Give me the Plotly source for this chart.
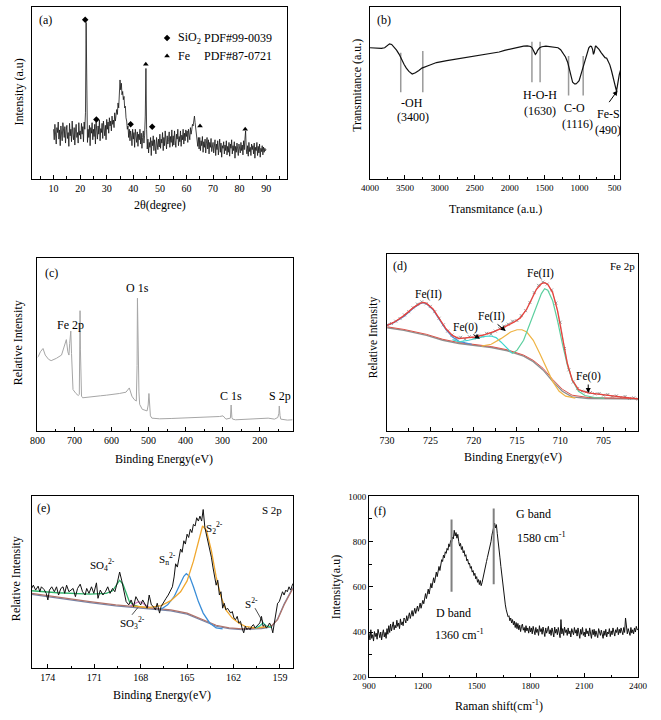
import plotly.graph_objects as go

FONT = "Liberation Serif, Times New Roman, serif"
W, H = 661, 720

# ---------------- (a) XRD (0.25 degree steps from 10 to 90) ----------------
xrd_2theta = [round(10 + 0.25 * i, 2) for i in range(321)]
xrd_intensity = [
    150, 118, 165, 128, 105, 155, 140, 172, 120, 148, 100, 160, 132, 115, 170, 138, 125, 158, 108, 145,
    162, 122, 140, 98, 168, 130, 150, 112, 175, 135, 118, 155, 102, 148, 165, 125, 140, 108, 170, 132,
    145, 120, 168, 135, 158, 112, 172, 150, 200, 475, 180, 110, 150, 125, 162, 100, 155, 138, 170, 118,
    150, 128, 165, 105, 172, 140, 120, 160, 135, 178, 115, 152, 140, 168, 122, 175, 145, 130, 162, 118,
    180, 150, 172, 138, 185, 160, 175, 145, 190, 165, 178, 155, 200, 175, 192, 210, 195, 230, 215, 262,
    300, 270, 290, 255, 265, 240, 250, 215, 220, 185, 175, 150, 160, 125, 150, 115, 145, 130, 100, 150,
    120, 140, 95, 150, 128, 110, 142, 98, 135, 118, 150, 105, 138, 92, 125, 145, 108, 132, 190, 335,
    150, 90, 120, 78, 110, 95, 125, 70, 115, 100, 130, 85, 118, 95, 75, 125, 102, 88, 120, 96,
    135, 92, 120, 108, 140, 85, 125, 100, 145, 110, 90, 130, 105, 118, 142, 95, 128, 110, 148, 98,
    130, 102, 145, 115, 95, 135, 120, 150, 100, 128, 112, 145, 98, 132, 118, 150, 105, 138, 115, 148,
    128, 145, 110, 150, 132, 118, 155, 135, 148, 165, 160, 185, 190, 170, 150, 135, 120, 98, 125, 90,
    125, 85, 115, 100, 128, 80, 112, 95, 120, 78, 108, 125, 90, 118, 75, 110, 95, 122, 82, 105,
    110, 78, 100, 118, 70, 105, 88, 115, 72, 98, 120, 80, 108, 65, 100, 92, 112, 75, 102, 85,
    115, 72, 98, 80, 110, 68, 105, 92, 118, 75, 100, 85, 112, 62, 98, 80, 108, 90, 70, 105,
    95, 78, 110, 85, 102, 72, 115, 88, 120, 145, 90, 75, 100, 68, 110, 82, 95, 70, 105, 88,
    100, 75, 108, 62, 95, 85, 110, 70, 98, 78, 105, 65, 92, 82, 100, 72, 96, 80, 92, 85,
    88]
sio2_2theta = [21.9, 26.1, 39.0, 47.1]
sio2_marker_y = [483, 180, 165, 158]
fe_2theta = [44.7, 65.1, 82.1]
fe_marker_y = [348, 160, 150]

# ---------------- (b) FTIR ----------------
ftir_wn = [4000, 3900, 3837, 3790, 3754, 3721, 3690, 3652, 3620, 3582, 3550, 3513, 3480, 3443, 3396, 3350, 3300,
           3257, 3150, 3048, 2900, 2723, 2600, 2445, 2259, 2150, 2073, 1980, 1887, 1800, 1748, 1700, 1679, 1655,
           1632, 1615, 1600, 1570, 1539, 1480, 1424, 1360, 1307, 1270, 1237, 1200, 1168, 1130, 1098, 1070, 1051,
           1030, 1005, 970, 935, 900, 866, 845, 828, 812, 800, 790, 781, 772, 765, 750, 735, 720, 690, 660, 634,
           610, 588, 565, 541, 515, 494, 480, 470, 460, 448, 430, 412]
ftir_trans = [400, 399, 398, 400, 408, 412, 410, 402, 393, 380, 365, 350, 338, 328, 320, 324, 331,
              338, 347, 355, 361, 367, 372, 378, 383, 387, 392, 397, 402, 405, 406, 404, 400, 388,
              380, 384, 392, 400, 403, 405, 404, 403, 400, 394, 385, 372, 355, 325, 295, 290, 290,
              294, 300, 325, 350, 378, 400, 405, 404, 395, 380, 385, 398, 404, 405, 402, 398, 395, 385, 375, 370,
              368, 360, 348, 330, 305, 285, 272, 268, 280, 300, 318, 332]
ftir_mark_wn = [3560, 3244, 1681, 1564, 1156, 947]
ftir_mark_top = [385, 390, 418, 418, 375, 375]
ftir_mark_bottom = [265, 265, 295, 295, 255, 255]

# ---------------- (c) XPS survey ----------------
survey_be = [800, 798, 792, 785, 779, 770, 763, 749, 735, 727, 722, 718, 715, 713, 710, 708, 704, 696, 690, 687,
             686, 685, 684, 683, 681, 678, 660, 648, 630, 613, 595, 579, 561, 552, 545, 539, 533, 531, 530, 528.5,
             526, 524, 517, 504, 501, 499, 497, 495, 491, 470, 439, 400, 352, 330, 308, 299, 291, 279, 277, 275,
             273, 265, 240, 221, 200, 177, 160, 151, 148, 147, 145, 143, 125, 111]
survey_int = [225, 227, 242, 252, 232, 219, 215, 222, 232, 257, 279, 242, 232, 267, 305, 237, 127, 115, 109, 112,
              200, 367, 250, 140, 107, 102, 105, 107, 108, 110, 112, 115, 119, 132, 107, 97, 92, 200, 405, 260,
              120, 82, 67, 62, 80, 115, 75, 47, 40, 38, 39, 41, 42, 43, 45, 47, 37, 40, 80, 42,
              37, 35, 36, 37, 38, 40, 37, 42, 55, 77, 48, 37, 34, 35]

# ---------------- (d) Fe 2p ----------------
fe_raw_be = [730, 729.5, 729, 728.5, 728, 727.5, 727, 726.5, 726, 725.5, 725, 724.5, 724, 723.5, 723, 722.5, 722,
             721.5, 721, 720.5, 720, 719.5, 719, 718.5, 718, 717.5, 717, 716.5, 716, 715.5, 715, 714.5, 714, 713.5,
             713, 712.5, 712, 711.5, 711, 710.5, 710, 709.5, 709, 708.5, 708, 707.5, 707, 706.5, 706, 705.5, 705,
             704.5, 704, 703.5, 703, 702.5, 702, 701.5, 701]
fe_raw_int = [322, 326, 333, 341, 352, 362, 374, 385, 392, 386, 378, 362, 342, 322, 303, 291, 282,
              284, 279, 286, 282, 290, 288, 296, 294, 303, 311, 318, 324, 333, 335, 350, 365, 390,
              420, 442, 452, 446, 428, 388, 330, 250, 185, 148, 128, 120, 118, 116, 112, 113, 108,
              110, 104, 106, 101, 104, 98, 100, 96]
fe_env_be = [730, 729.18, 728.06, 726.94, 726.19, 725.81, 725.44, 724.69, 723.95, 723.2, 722.45, 721.7, 720.96,
             719.84, 718.71, 717.59, 716.47, 715.35, 714.6, 713.86, 713.3, 712.74, 712.17, 711.8, 711.43, 710.87,
             710.31, 709.75, 709.18, 708.62, 707.88, 706.76, 704.89, 703.02, 701.04]
fe_env_int = [320, 330, 350, 375, 387, 390, 387, 370, 340, 310, 290, 280, 282,
              285, 292, 302, 315, 330, 343, 370, 400, 430, 447, 450, 445, 420,
              365, 285, 205, 155, 125, 115, 110, 103, 97]
fe_bg_be = [730, 728.06, 725.44, 723.57, 721.7, 719.84, 717.97, 716.1, 714.23, 713.11, 711.99, 710.87, 709.75,
            708.62, 706.76, 703.02, 701.04]
fe_bg_int = [313, 305, 290, 275, 265, 259, 253, 243, 227, 210, 185, 150, 120, 103, 98, 97, 96]
fe_bg2_int = [316, 308, 293, 278, 268, 262, 256, 246, 230, 214, 190, 156, 126, 108, 101, 99, 98]
fe_p726_be = [730, 729.18, 728.06, 726.94, 726.19, 725.81, 725.44, 724.69, 723.95, 723.2, 722.45, 721.7, 720.96, 720.21]
fe_p726_int = [320, 329, 347, 373, 386, 389, 386, 368, 338, 307, 285, 272, 267, 263]
fe_p719_be = [722.45, 721.7, 720.58, 719.46, 718.71, 717.97, 717.41, 716.85, 716.1, 715.54]
fe_p719_int = [277, 270, 275, 282, 287, 288, 283, 270, 250, 235]
fe_p715_be = [719.09, 717.97, 716.85, 715.73, 714.98, 714.42, 713.86, 713.11, 712.36, 711.61, 710.87, 710.12,
              709.37, 708.25]
fe_p715_int = [257, 263, 280, 300, 307, 307, 300, 275, 235, 190, 150, 120, 105, 99]
fe_p712_be = [715.54, 714.98, 714.23, 713.48, 712.74, 712.17, 711.8, 711.43, 710.87, 710.31, 709.75, 709.18,
              708.62, 707.88, 707.13, 706.01, 704.89]
fe_p712_int = [235, 245, 275, 325, 380, 417, 432, 427, 395, 335, 265, 200, 155, 120, 107, 101, 99]

# ---------------- (e) S 2p ----------------
s_raw_be = [175.05, 174.94, 174.79, 174.63, 174.52, 174.42, 174.25, 174.10, 174.00, 173.90, 173.75, 173.58, 173.44,
            173.31, 173.16, 173.02, 172.91, 172.79, 172.64, 172.49, 172.37, 172.22, 172.08, 171.91, 171.76, 171.59,
            171.49, 171.34, 171.18, 171.03, 170.86, 170.76, 170.61, 170.44, 170.28, 170.13, 169.98, 169.82, 169.67,
            169.50, 169.36, 169.23, 169.08, 168.94, 168.77, 168.62, 168.46, 168.31, 168.14, 168.00, 167.87, 167.72,
            167.58, 167.45, 167.31, 167.18, 167.05, 166.93, 166.78, 166.68, 166.51, 166.36, 166.22, 166.05, 165.95,
            165.84, 165.74, 165.63, 165.53, 165.42, 165.32, 165.21, 165.11, 165.00, 164.90, 164.79, 164.69, 164.59,
            164.48, 164.38, 164.27, 164.17, 164.06, 163.96, 163.85, 163.75, 163.64, 163.54, 163.43, 163.33, 163.23,
            163.12, 163.02, 162.91, 162.81, 162.70, 162.60, 162.49, 162.39, 162.28, 162.18, 162.08, 161.97, 161.87,
            161.76, 161.66, 161.55, 161.45, 161.34, 161.24, 161.13, 161.03, 160.92, 160.82, 160.71, 160.61, 160.51,
            160.40, 160.30, 160.19, 160.09, 159.98, 159.88, 159.77, 159.67, 159.56, 159.46, 159.36, 159.25, 159.15,
            159.04, 158.94, 158.83, 158.73, 158.62, 158.52, 158.41, 158.31, 158.16]
s_raw_int = [243, 253, 238, 250, 233, 248, 240, 228, 208, 238, 248, 233, 248,
             223, 243, 248, 228, 253, 233, 238, 243, 218, 243, 256, 233, 223,
             243, 228, 248, 228, 260, 213, 238, 223, 233, 248, 228, 243, 233,
             263, 293, 268, 233, 203, 193, 208, 188, 218, 203, 193, 208, 193,
             183, 223, 193, 188, 178, 198, 168, 188, 203, 213, 223, 238, 248,
             278, 318, 308, 338, 363, 353, 388, 378, 408, 398, 423, 413, 438,
             433, 458, 448, 463, 448, 483, 428, 408, 388, 368, 338, 308, 278,
             253, 268, 223, 233, 183, 198, 178, 183, 173, 168, 173, 153, 148,
             158, 138, 143, 123, 108, 128, 118, 123, 118, 128, 133, 123, 128,
             133, 138, 158, 128, 133, 123, 128, 138, 128, 108, 138, 168, 198,
             203, 218, 233, 223, 238, 233, 248, 238, 258]
s_bg_be = [175.05, 173.37, 171.28, 169.61, 168.14, 167.10, 166.05, 165.00, 163.96, 163.12, 162.28, 161.45, 160.19,
           159.56, 159.15, 158.73, 158.16]
s_bg_int = [228, 216, 203, 193, 186, 182, 178, 168, 148, 131, 123, 120, 123, 128, 148, 193, 243]
s_bg2_int = [225, 213, 200, 190, 183, 179, 175, 165, 145, 128, 121, 118, 121, 126, 150, 196, 246]
s_so4_be = [175.05, 173.37, 171.28, 170.23, 169.82, 169.57, 169.36, 169.15, 168.94, 168.73, 168.46, 168.14]
s_so4_int = [236, 230, 226, 228, 236, 253, 268, 256, 226, 203, 193, 188]
s_so3_be = [168.67, 168.35, 168.14, 167.93, 167.72, 167.41]
s_so3_int = [190, 198, 203, 201, 193, 185]
s_s22_be = [168.56, 167.51, 166.68, 166.05, 165.42, 165.00, 164.59, 164.27, 164.00, 163.75, 163.43, 163.12, 162.81,
            162.49, 162.08, 161.66, 161.24, 160.61, 159.98, 159.56]
s_s22_int = [190, 185, 191, 206, 233, 266, 326, 386, 433, 420, 358, 278, 218, 178, 153, 138, 128, 123, 126, 128]
s_sn_be = [166.68, 166.26, 165.84, 165.53, 165.21, 165.05, 164.84, 164.59, 164.27, 163.96, 163.54, 163.12, 162.70]
s_sn_int = [180, 193, 218, 248, 280, 288, 280, 248, 203, 168, 138, 123, 120]
s_s2_be = [160.61, 160.30, 160.09, 159.88, 159.56]
s_s2_int = [122, 129, 138, 129, 125]

# ---------------- (f) Raman (5 cm-1 steps from 900 to 2400) ----------------
raman_shift = list(range(900, 2401, 5))
raman_int = [
    395, 365, 410, 372, 388, 360, 402, 380, 395, 368, 412, 385, 375, 400, 365, 392, 410, 378, 398, 372,
    415, 390, 428, 398, 435, 405, 420, 445, 410, 430, 418, 452, 425, 440, 415, 458, 432, 445, 428, 462,
    455, 440, 472, 450, 468, 485, 460, 478, 495, 470, 488, 505, 482, 500, 515, 492, 510, 528, 505, 522,
    540, 525, 552, 570, 548, 575, 590, 568, 598, 615, 595, 625, 640, 618, 650, 665, 645, 678, 690, 672,
    705, 720, 712, 740, 728, 755, 748, 770, 762, 790, 778, 805, 795, 820, 812, 850, 825, 840, 815, 832,
    800, 780, 792, 765, 778, 750, 760, 735, 742, 715, 722, 700, 705, 682, 690, 665, 672, 650, 660, 635,
    645, 620, 632, 610, 628, 605, 618, 640, 660, 685, 700, 712, 730, 745, 760, 785, 800, 828, 845, 870,
    882, 860, 875, 835, 805, 770, 728, 690, 652, 610, 578, 545, 520, 498, 485, 468, 472, 450, 462, 440,
    455, 432, 448, 420, 442, 415, 438, 410, 430, 402, 425, 435, 408, 420, 398, 428, 405, 418, 395, 425,
    400, 418, 392, 425, 405, 388, 420, 398, 412, 385, 428, 402, 415, 390, 422, 400, 380, 418, 395, 410,
    425, 392, 410, 385, 418, 400, 378, 422, 395, 412, 388, 420, 398, 375, 455, 392, 415, 385, 422, 398,
    410, 385, 418, 392, 405, 378, 415, 400, 388, 420, 395, 410, 382, 418, 398, 372, 412, 390, 420, 385,
    400, 378, 415, 392, 405, 382, 418, 395, 372, 410, 388, 412, 380, 405, 392, 375, 415, 398, 385, 408,
    390, 372, 405, 385, 412, 378, 400, 392, 415, 380, 405, 388, 418, 395, 382, 410, 398, 420, 388, 412,
    395, 418, 402, 388, 420, 398, 462, 405, 392, 415, 400, 385, 420, 395, 410, 392, 418, 400, 425, 410,
    412]
raman_band_x = [1360, 1595]
raman_band_top = [898, 946]
raman_band_bottom = [578, 611]


def dom_x(a, b):
    return [a / W, b / W]


def dom_y(top, bottom):
    return [1 - bottom / H, 1 - top / H]


def xaxis(domain, rng, dtick, minor, tick0=None, size=10, anchor='y'):
    d = dict(domain=domain, range=rng, anchor=anchor, showline=True, linecolor='black', linewidth=1, mirror=True,
             ticks='inside', ticklen=4, tickwidth=1, tickcolor='black', dtick=dtick, showgrid=False, zeroline=False,
             tickfont=dict(family=FONT, size=size, color='black'),
             minor=dict(ticks='inside', ticklen=2.5, tickwidth=1, tickcolor='black', dtick=minor, showgrid=False))
    if tick0 is not None:
        d['tick0'] = tick0
        d['minor']['tick0'] = tick0
    return d


def yaxis_blank(domain, rng, anchor):
    return dict(domain=domain, range=rng, anchor=anchor, showline=True, linecolor='black', linewidth=1, mirror=True,
                ticks='', showticklabels=False, showgrid=False, zeroline=False)


fig = go.Figure()


def line(x, y, color, width=1, xa='x', ya='y', mode='lines', marker=None):
    tr = go.Scatter(x=x, y=y, mode=mode, line=dict(color=color, width=width), xaxis=xa, yaxis=ya,
                    showlegend=False, hoverinfo='skip')
    if marker:
        tr.marker = marker
    fig.add_trace(tr)


# (a)
line(xrd_2theta, xrd_intensity, '#151515', 0.8, 'x', 'y')
fig.add_trace(go.Scatter(x=sio2_2theta + [52.7], y=sio2_marker_y + [428], mode='markers', xaxis='x', yaxis='y',
                         marker=dict(symbol='diamond', size=5, color='black'), showlegend=False))
fig.add_trace(go.Scatter(x=fe_2theta + [52.7], y=fe_marker_y + [373], mode='markers', xaxis='x', yaxis='y',
                         marker=dict(symbol='triangle-up', size=5, color='black'), showlegend=False))

# (b)
for wx, t, b in zip(ftir_mark_wn, ftir_mark_top, ftir_mark_bottom):
    line([wx, wx], [t, b], '#9a9a9a', 1.5, 'x2', 'y2')
line(ftir_wn, ftir_trans, '#111111', 1.2, 'x2', 'y2')

# (c)
line(survey_be, survey_int, '#a6a6a6', 1, 'x3', 'y3')

# (d)
line(fe_raw_be, fe_raw_int, '#b5b5b5', 0.7, 'x4', 'y4', mode='lines+markers',
     marker=dict(symbol='x-thin', size=3, color='#8c8c8c', line=dict(width=0.8, color='#8c8c8c')))
line(fe_bg_be, fe_bg_int, '#8f8f8f', 1.4, 'x4', 'y4')
line(fe_bg_be, fe_bg2_int, '#d9534a', 1.0, 'x4', 'y4')
line(fe_p726_be, fe_p726_int, '#4a8fd8', 1.2, 'x4', 'y4')
line(fe_p719_be, fe_p719_int, '#3fd6d0', 1.2, 'x4', 'y4')
line(fe_p715_be, fe_p715_int, '#efb445', 1.2, 'x4', 'y4')
line(fe_p712_be, fe_p712_int, '#5ccf9f', 1.2, 'x4', 'y4')
line(fe_env_be, fe_env_int, '#e8423c', 1.3, 'x4', 'y4')

# (e)
line(s_bg_be, s_bg2_int, '#7583a6', 1.2, 'x5', 'y5')
line(s_bg_be, s_bg_int, '#b0736a', 1.2, 'x5', 'y5')
line(s_so4_be, s_so4_int, '#2fb36a', 1.3, 'x5', 'y5')
line(s_so3_be, s_so3_int, '#cf7fc4', 1.2, 'x5', 'y5')
line(s_sn_be, s_sn_int, '#3b8ed8', 1.3, 'x5', 'y5')
line(s_s22_be, s_s22_int, '#f0a830', 1.3, 'x5', 'y5')
line(s_s2_be, s_s2_int, '#35c4a0', 1.3, 'x5', 'y5')
line(s_raw_be, s_raw_int, '#111111', 1.0, 'x5', 'y5')
line([168.56, 168.18], [163, 185], 'black', 0.7, 'x5', 'y5')
line([160.61, 160.09], [183, 140], 'black', 0.7, 'x5', 'y5')

# (f)
line(raman_shift, raman_int, '#111111', 1.0, 'x6', 'y6')
for bx, t, b in zip(raman_band_x, raman_band_top, raman_band_bottom):
    line([bx, bx], [b, t], '#808080', 2, 'x6', 'y6')


def txt(text, x, y, xr, yr, size=12, xanchor='center', yanchor='middle', angle=0):
    return dict(text=text, x=x, y=y, xref=xr, yref=yr, showarrow=False, textangle=angle,
                font=dict(family=FONT, size=size, color='black'), xanchor=xanchor, yanchor=yanchor)


def arrow(hx, hy, tx, ty, xr, yr):
    return dict(text='', x=hx, y=hy, ax=tx, ay=ty, xref=xr, yref=yr, axref=xr, ayref=yr, showarrow=True,
                arrowhead=2, arrowsize=1, arrowwidth=1, arrowcolor='black')


P = 'paper'
ann = [
    # (a)
    txt('(a)', 3.9, 483, 'x', 'y', 12, 'left'),
    txt('SiO<sub>2</sub>', 56.0, 428, 'x', 'y', 12, 'left'),
    txt('PDF#99-0039', 65.7, 428, 'x', 'y', 12, 'left'),
    txt('Fe', 56.0, 373, 'x', 'y', 12, 'left'),
    txt('PDF#87-0721', 65.7, 373, 'x', 'y', 12, 'left'),
    txt('2θ(degree)', 155 / W, 1 - 203 / H, P, P, 12),
    txt('Intensity (a.u)', 10 / W, 1 - 88 / H, P, P, 12, angle=-90),
    # (b)
    txt('(b)', 3930, 485, 'x2', 'y2', 12, 'left'),
    txt('-OH', 3397, 232, 'x2', 'y2', 12),
    txt('(3400)', 3383, 190, 'x2', 'y2', 12),
    txt('H-O-H', 1564, 257, 'x2', 'y2', 12),
    txt('(1630)', 1564, 208, 'x2', 'y2', 12),
    txt('C-O', 1077, 217, 'x2', 'y2', 12),
    txt('(1116)', 1031, 168, 'x2', 'y2', 12),
    txt('Fe-S', 590, 200, 'x2', 'y2', 12),
    txt('(490)', 590, 150, 'x2', 'y2', 12),
    arrow(455, 270, 590, 230, 'x2', 'y2'),
    txt('Transmitance (a.u.)', 500.8 / W, 1 - 207 / H, P, P, 12),
    txt('Transmitance (a.u.)', 358.3 / W, 1 - 82 / H, P, P, 12, angle=-90),
    # (c)
    txt('(c)', 785, 482, 'x3', 'y3', 12, 'left'),
    txt('Fe 2p', 712, 322, 'x3', 'y3', 12),
    txt('O 1s', 530, 437, 'x3', 'y3', 12),
    txt('C 1s', 278, 107, 'x3', 'y3', 12),
    txt('S 2p', 144, 107, 'x3', 'y3', 12),
    txt('Binding Energy(eV)', 160 / W, 1 - 460 / H, P, P, 12),
    txt('Relative Intensity', 9.3 / W, 1 - 343 / H, P, P, 12, angle=-90),
    # (d)
    txt('(d)', 728.5, 500, 'x4', 'y4', 12),
    txt('Fe 2p', 702.8, 500, 'x4', 'y4', 11),
    txt('Fe(II)', 725.25, 413, 'x4', 'y4', 11.5),
    txt('Fe(0)', 720.96, 313, 'x4', 'y4', 11.5),
    txt('Fe(II)', 717.97, 347, 'x4', 'y4', 11.5),
    txt('Fe(II)', 712.29, 477, 'x4', 'y4', 11.5),
    txt('Fe(0)', 706.76, 165, 'x4', 'y4', 11.5),
    arrow(719.27, 280, 720.2, 295, 'x4', 'y4'),
    arrow(716.29, 303, 717.41, 327, 'x4', 'y4'),
    arrow(706.76, 115, 706.76, 145, 'x4', 'y4'),
    txt('Binding Energy(eV)', 518.7 / W, 1 - 458.3 / H, P, P, 12),
    txt('Relative Intensity', 375 / W, 1 - 336.7 / H, P, P, 11.5, angle=-90),
    # (e)
    txt('(e)', 174.31, 488, 'x5', 'y5', 12),
    txt('S 2p', 159.52, 483, 'x5', 'y5', 11),
    txt('SO<sub>4</sub><sup>2-</sup>', 170.44, 313, 'x5', 'y5', 11),
    txt('S<sub>n</sub><sup>2-</sup>', 166.26, 333, 'x5', 'y5', 11),
    txt('S<sub>2</sub><sup>2-</sup>', 163.2, 428, 'x5', 'y5', 11),
    txt('SO<sub>3</sub><sup>2-</sup>', 168.56, 138, 'x5', 'y5', 11),
    txt('S<sup>2-</sup>', 160.82, 198, 'x5', 'y5', 11),
    txt('Binding Energy(eV)', 157.7 / W, 1 - 700 / H, P, P, 12),
    txt('Relative Intensity', 6.7 / W, 1 - 581.7 / H, P, P, 12, angle=-90),
    # (f)
    txt('(f)', 959, 934, 'x6', 'y6', 12),
    txt('G band', 1708, 920, 'x6', 'y6', 12, 'left'),
    txt('1580 cm<sup>-1</sup>', 1712, 818, 'x6', 'y6', 12, 'left'),
    txt('D band', 1261, 483, 'x6', 'y6', 12, 'left'),
    txt('1360 cm<sup>-1</sup>', 1259, 389, 'x6', 'y6', 12, 'left'),
    txt('Raman shift(cm<sup>-1</sup>)', 505 / W, 1 - 710 / H, P, P, 12),
    txt('Intensity(a.u)', 336 / W, 1 - 590 / H, P, P, 12, angle=-90),
]

yf = dict(domain=dom_y(498.3, 681.7), range=[200, 1000], anchor='x6', showline=True, linecolor='black',
          linewidth=1, mirror=True, ticks='inside', ticklen=4, tickwidth=1, tickcolor='black', dtick=200,
          showgrid=False, zeroline=False, tickfont=dict(family=FONT, size=9, color='black'),
          minor=dict(ticks='inside', ticklen=2.5, tickwidth=1, tickcolor='black', dtick=100, showgrid=False))

fig.update_layout(
    width=W, height=H, margin=dict(l=0, r=0, t=0, b=0), paper_bgcolor='white', plot_bgcolor='white',
    showlegend=False, font=dict(family=FONT, color='black'),
    xaxis=xaxis(dom_x(24, 286.7), [2, 98], 10, 5, tick0=10, size=10, anchor='y'),
    yaxis=yaxis_blank(dom_y(1.7, 176), [0, 523], 'x'),
    xaxis2=xaxis(dom_x(371.7, 629.3), [4000, 416.5], 500, 250, tick0=500, size=9, anchor='y2'),
    yaxis2=yaxis_blank(dom_y(1.7, 176.7), [0, 525], 'x2'),
    xaxis3=xaxis(dom_x(29.3, 292), [800, 111], 100, 50, tick0=0, size=10, anchor='y3'),
    yaxis3=yaxis_blank(dom_y(256.7, 432.3), [0, 527], 'x3'),
    xaxis4=xaxis(dom_x(389.3, 647.7), [730, 701], 5, 2.5, tick0=700, size=10, anchor='y4'),
    yaxis4=yaxis_blank(dom_y(252.3, 431.7), [0, 538], 'x4'),
    xaxis5=xaxis(dom_x(23.3, 292.3), [175.05, 158.16], 3, 1.5, tick0=159, size=10, anchor='y5'),
    yaxis5=yaxis_blank(dom_y(498.3, 672.7), [0, 523], 'x5'),
    xaxis6=xaxis(dom_x(370.7, 647.7), [900, 2400], 300, 150, tick0=900, size=9, anchor='y6'),
    yaxis6=yf,
    annotations=ann,
)

fig.write_html("out.html")
